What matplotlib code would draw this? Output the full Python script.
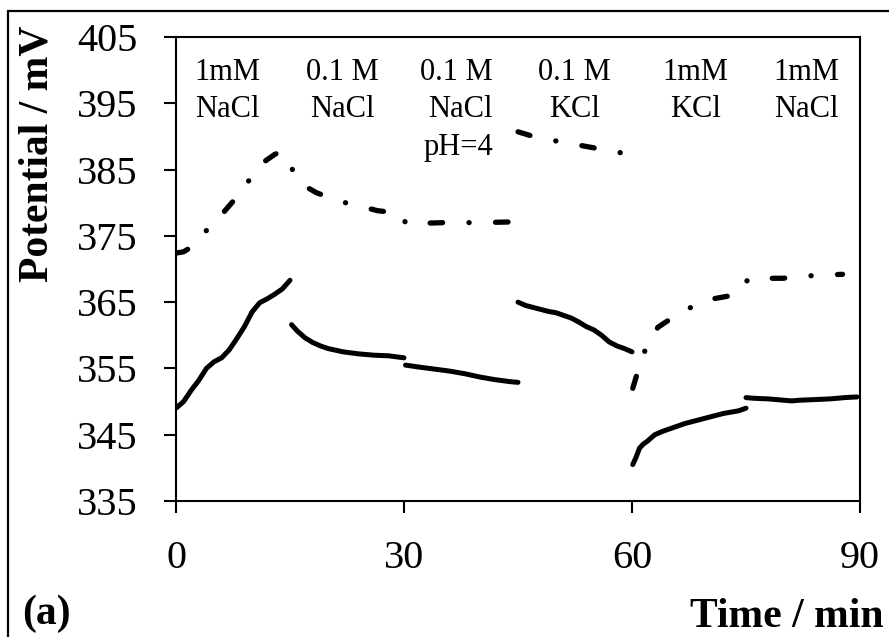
import numpy as np
import matplotlib
matplotlib.use("Agg")
import matplotlib.pyplot as plt
from matplotlib.patches import Rectangle

# ---- data ----
# lower (solid) curve, segments separated by NaN
solid_t = [0, 1, 2, 3, 4, 5, 6, 7, 8, 9, 10, 11, 12, 13, 14, 15, np.nan,
           15.2, 16, 17, 18, 19, 20, 22, 24, 26, 28, 30, np.nan,
           30.2, 32, 34, 36, 38, 40, 42, 44, 45, np.nan,
           45, 46, 47, 48, 49, 50, 51, 52, 53, 54, 55, 56, 57, 58, 59, 60, np.nan,
           60.1, 60.5, 61, 61.5, 62, 63, 64, 65, 66, 67, 68, 70, 72, 74, 75, np.nan,
           75, 76, 78, 80, 81, 82, 84, 86, 88, 89.6]
solid_v = [349, 350, 351.7, 353.2, 355, 356, 356.6, 357.8, 359.5, 361.3, 363.5, 364.9, 365.5, 366.2, 367, 368.3, np.nan,
           361.6, 360.6, 359.6, 358.9, 358.4, 358.0, 357.5, 357.2, 357.0, 356.9, 356.6, np.nan,
           355.5, 355.2, 354.9, 354.6, 354.2, 353.7, 353.3, 353.0, 352.9, np.nan,
           365, 364.5, 364.2, 363.9, 363.6, 363.4, 363.0, 362.6, 362.0, 361.3, 360.8, 360.0, 359.0, 358.4, 358.0, 357.5, np.nan,
           340.5, 341.5, 343, 343.6, 344, 345, 345.5, 345.9, 346.3, 346.7, 347, 347.6, 348.2, 348.6, 349.0, np.nan,
           350.6, 350.5, 350.4, 350.2, 350.1, 350.2, 350.3, 350.4, 350.6, 350.7]

# upper (dash-dot) curve
dashdot_t = [0, 1, 2, 4, 6, 7.5, 9.5, 11.5, 13, 13.8, 15, 16.5, 18.5, 21.5, 23.5, 26.5, 29.5,
             30.3, 32.5, 35.5, 40, 44.2, np.nan,
             45, 47, 50.5, 54.4, 58.7, np.nan,
             60.1, 60.8, 61.8, 63.4, 66.3, 69.7, 73.6, 75.4, 79.8, 83.7, 87.7]
dashdot_v = [372.4, 372.6, 373.3, 375.8, 378.2, 380.2, 383.2, 386.1, 387.3, 387.7, 385.6, 382.8, 381.5, 380.2, 379.7, 378.8, 378.4,
             376.8, 376.9, 377.0, 377.0, 377.1, np.nan,
             390.7, 390.0, 389.2, 388.4, 387.5, np.nan,
             352, 354.7, 358, 361.2, 363.4, 365.3, 366.1, 368.6, 368.6, 369.0, 369.2]

# condition labels
label_texts = ["1mM\nNaCl", "0.1 M\nNaCl", "0.1 M\nNaCl\npH=4", "0.1 M\nKCl", "1mM\nKCl", "1mM\nNaCl"]
label_t = [6.8, 21.9, 41.7, 52.4, 68.3, 82.9]
label_ha = ["center", "center", "right", "center", "center", "center"]

x_ticks = [0, 30, 60, 90]
y_ticks = [335, 345, 355, 365, 375, 385, 395, 405]

# ---- style ----
plt.rcParams['font.family'] = ['Liberation Serif', 'DejaVu Serif']
plt.rcParams['lines.scale_dashes'] = False

W, H = 889, 637
fig = plt.figure(figsize=(W / 100, H / 100), dpi=100)
ax = fig.add_axes([176 / W, 1 - 501 / H, (860 - 176) / W, (501 - 37) / H])

ax.plot(solid_t, solid_v, color='black', lw=3.6, solid_capstyle='round',
        solid_joinstyle='round')
ax.plot(dashdot_t, dashdot_v, color='black', lw=3.8, dash_capstyle='round',
        dash_joinstyle='round', dashes=(9, 19, 0.1, 19))

ax.set_xlim(0, 90)
ax.set_ylim(335, 405)
ax.set_xticks(x_ticks)
ax.set_yticks(y_ticks)
ax.tick_params(axis='both', direction='out', length=8.8, width=1.5,
               labelsize=29, pad=19, colors='black')
for s in ax.spines.values():
    s.set_linewidth(1.5)

for txt, t, ha in zip(label_texts, label_t, label_ha):
    ax.text(t, 401.9, txt, ha=ha, va='top', multialignment=ha,
            fontsize=22, linespacing=1.4)

fig.text(38 / W, 1 - 153.5 / H, "Potential / mV", rotation=90, ha='center',
         va='center', fontsize=30, fontweight='bold')
fig.text(884 / W, (H - 627) / H, "Time / min", ha='right', va='baseline',
         fontsize=30, fontweight='bold')
fig.text(22 / W, (H - 624) / H, "(a)", ha='left', va='baseline',
         fontsize=30, fontweight='bold')

fig.patches.append(Rectangle((7.5 / W, -0.5), 2, 0.5 + 1 - 11 / H,
                             transform=fig.transFigure, fill=False,
                             lw=1.6, edgecolor='black'))

fig.savefig("out.png", dpi=100)
